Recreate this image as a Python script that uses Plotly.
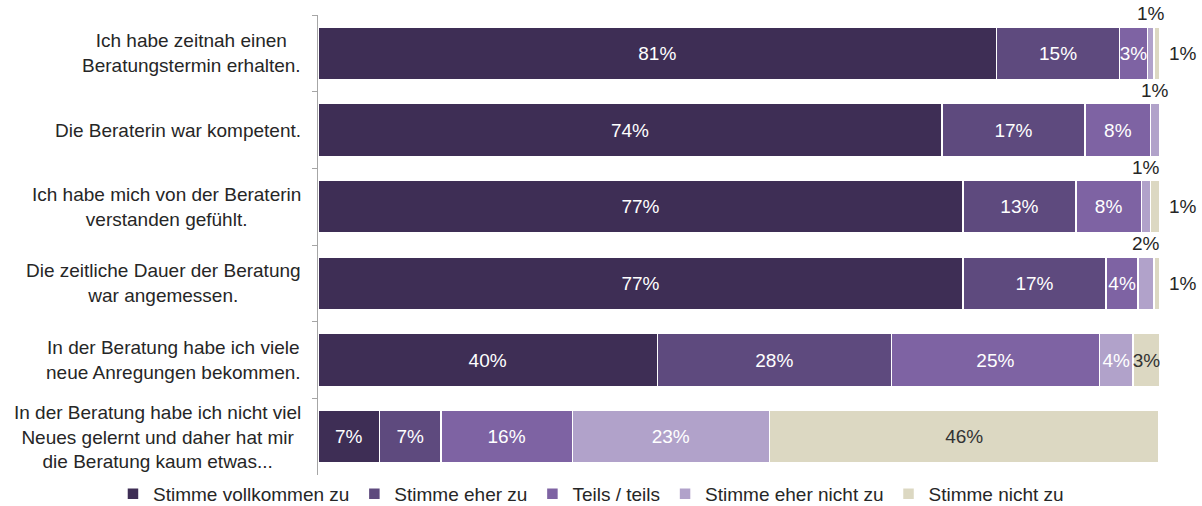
import plotly.graph_objects as go

categories = [
    "Ich habe zeitnah einen<br>Beratungstermin erhalten.",
    "Die Beraterin war kompetent.",
    "Ich habe mich von der Beraterin<br>verstanden gefühlt.",
    "Die zeitliche Dauer der Beratung<br>war angemessen.",
    "In der Beratung habe ich viele<br>neue Anregungen bekommen.",
    "In der Beratung habe ich nicht viel<br>Neues gelernt und daher hat mir<br>die Beratung kaum etwas...",
]

series_names = [
    "Stimme vollkommen zu",
    "Stimme eher zu",
    "Teils / teils",
    "Stimme eher nicht zu",
    "Stimme nicht zu",
]

voll = [80.6, 74.1, 76.6, 76.6, 40.3, 7.3]
eher = [14.6, 17.0, 13.4, 17.0, 27.8, 7.3]
teils = [3.3, 7.8, 7.8, 3.8, 24.7, 15.6]
eher_nicht = [0.8, 1.1, 1.1, 1.9, 4.0, 23.4]
nicht = [0.7, 0.0, 1.1, 0.7, 3.2, 46.3]

series_values = [voll, eher, teils, eher_nicht, nicht]
colors = ["#3e2e55", "#5e4a7e", "#7e63a3", "#b1a2ca", "#dcd8c2"]
text_colors = ["white", "white", "white", "white", "#333333"]

FONT = "Liberation Sans, Arial, sans-serif"
FS = 19
INSIDE_MIN = 2.5

fig = go.Figure()
for name, vals, col, tcol in zip(series_names, series_values, colors, text_colors):
    labels = [f"{round(v)}%" if v >= INSIDE_MIN else "" for v in vals]
    fig.add_trace(go.Bar(
        y=categories, x=vals, name=name, orientation="h",
        marker=dict(color=col, line=dict(color="white", width=1.5)),
        text=labels, textposition="inside", insidetextanchor="middle",
        textangle=0, textfont=dict(color=tcol, size=FS, family=FONT),
        hoverinfo="skip",
    ))

annotations = []
# small segment labels outside the bars
for i, cat in enumerate(categories):
    cum = 0.0
    for s, vals in enumerate(series_values):
        v = vals[i]
        if 0 < v < INSIDE_MIN:
            if s == 3:
                annotations.append(dict(
                    x=cum + v / 2, y=cat, xref="x", yref="y", text=f"{round(v)}%",
                    showarrow=False, yanchor="bottom", yshift=27,
                    font=dict(size=FS, color="#262626", family=FONT)))
            else:
                annotations.append(dict(
                    x=cum + v, y=cat, xref="x", yref="y", text=f"{round(v)}%",
                    showarrow=False, xanchor="left", xshift=7,
                    font=dict(size=FS, color="#262626", family=FONT)))
        cum += v

# category labels, centred lines
for cat in categories:
    annotations.append(dict(
        x=0, y=cat, xref="paper", yref="y", text=cat, showarrow=False,
        xanchor="right", align="center", xshift=-15,
        font=dict(size=FS, color="#262626", family=FONT)))

fig.update_layout(
    width=1202, height=506,
    margin=dict(l=318, r=42, t=15, b=31, autoexpand=False),
    barmode="stack", bargap=0.31,
    plot_bgcolor="white", paper_bgcolor="white",
    font=dict(family=FONT, size=FS, color="#262626"),
    uniformtext=dict(minsize=FS, mode="show"),
    showlegend=True,
    legend=dict(orientation="h", x=-0.2435, xanchor="left", y=0, yanchor="top",
                font=dict(size=FS, family=FONT, color="#262626"),
                itemwidth=30, traceorder="normal"),
    annotations=annotations,
    xaxis=dict(range=[0, 100], visible=False, fixedrange=True),
    yaxis=dict(autorange="reversed", showticklabels=False, showline=True,
               linecolor="#a6a6a6", linewidth=1, ticks="outside",
               tickson="boundaries", ticklen=5, tickcolor="#a6a6a6",
               showgrid=False, zeroline=False),
)

fig.write_html("out.html")
